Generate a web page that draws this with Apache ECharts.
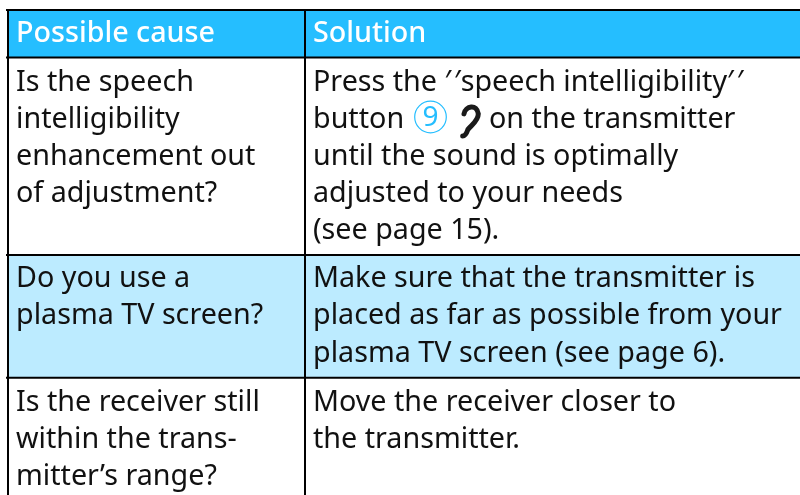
<!DOCTYPE html>
<html>
<head>
<meta charset="utf-8">
<style>html,body{margin:0;padding:0;background:#fff}#chart{width:800px;height:495px}</style>
<script src="https://cdn.jsdelivr.net/npm/echarts@6/dist/echarts.min.js"></script>
</head>
<body>
<div id="chart"></div>
<script>
const headers = ['Possible cause', 'Solution'];
const causes = [
    ['Is the speech', 'intelligibility', 'enhancement out', 'of adjustment?'],
    ['Do you use a', 'plasma TV screen?'],
    ['Is the receiver still', 'within the trans-', 'mitter\u2019s range?'],
];
const solutions = [
    ['Press the \u2032\u200A\u2032speech intelligibility\u2032\u200A\u2032', 'button', 'until the sound is optimally', 'adjusted to your needs', '(see page 15).'],
    ['Make sure that the transmitter is', 'placed as far as possible from your', 'plasma TV screen (see page 6).'],
    ['Move the receiver closer to', 'the transmitter.'],
];
const buttonTail = 'on the transmitter';
const buttonNumber = '9';

const font = '"Noto Sans", sans-serif';
const fontSize = 28.7;
const lineHeight = 37.2;
const inkColor = '#111111';
const headerColor = '#25BEFF';
const stripeColor = '#BCEBFF';
const colX = [8, 305, 800];
const rowY = [10, 57.5, 255, 377.7, 500];
const headerBaseline = 41;
const firstBaseline = [89.3, 286, 409.5];
const textX = [16, 313];

const chart = echarts.init(document.getElementById('chart'), null, {renderer: 'canvas'});

function cellItem(params, api) {
    const [x0, y0] = api.coord([api.value(0), api.value(1)]);
    const [x1, y1] = api.coord([api.value(2), api.value(3)]);
    return {type: 'rect', shape: {x: x0, y: y0, width: x1 - x0, height: y1 - y0},
        style: {fill: params.dataIndex === 0 ? headerColor : params.dataIndex === 2 ? stripeColor : '#fff'}};
}

function ruleItem(params, api) {
    const [x0, y0] = api.coord([api.value(0), api.value(1)]);
    const [x1, y1] = api.coord([api.value(2), api.value(3)]);
    return {type: 'line', shape: {x1: x0, y1: y0, x2: x1, y2: y1},
        style: {stroke: '#000', lineWidth: 2}};
}

const fills = [];
for (let r = 0; r < 4; r++) {
    fills.push([colX[0], rowY[r], colX[2], rowY[r + 1]]);
}
const rules = rowY.slice(0, 4).map(y => [colX[0] - 2, y, colX[2], y]);
rules.push([colX[0], rowY[0], colX[0], rowY[4]], [colX[1], rowY[0], colX[1], rowY[4]]);

const labels = [];
headers.forEach((text, c) => labels.push({value: [textX[c], headerBaseline], text, fill: '#fff', weight: 500}));
[causes, solutions].forEach((col, c) => col.forEach((lines, r) => lines.forEach((text, i) => {
    labels.push({value: [textX[c], firstBaseline[r] + i * lineHeight], text, fill: inkColor, weight: 400});
})));
labels.push({value: [489, firstBaseline[0] + lineHeight], text: buttonTail, fill: inkColor, weight: 400});

function labelItem(params, api) {
    const [x, y] = api.coord([api.value(0), api.value(1)]);
    const item = labels[params.dataIndex];
    return {type: 'text', style: {x, y: y - fontSize * 0.24, text: item.text, fill: item.fill,
        font: `${item.weight} ${fontSize}px ${font}`, textAlign: 'left', textVerticalAlign: 'middle'}};
}

function buttonItem(params, api) {
    const [x, y] = api.coord([430.5, 117]);
    const [ex, ey] = api.coord([462, 107]);
    return {type: 'group', children: [
        {type: 'circle', shape: {cx: x, cy: y, r: 15.8}, style: {fill: 'none', stroke: headerColor, lineWidth: 1.2}},
        {type: 'text', style: {x, y: y + 1, text: buttonNumber, fill: headerColor, font: `28px ${font}`,
            textAlign: 'center', textVerticalAlign: 'middle'}},
        {type: 'path', shape: {pathData: 'M4 9 C5 3 14 1 15 9 C15 15 9 18 7 21 C6 24 5 26 3 26',
            x: ex, y: ey, width: 17, height: 29, layout: 'center'},
            style: {fill: 'none', stroke: '#1a1a1a', lineWidth: 5, lineCap: 'round'}},
    ]};
}

chart.setOption({
    animation: false,
    grid: {left: 0, right: 0, top: 0, bottom: 0},
    xAxis: {type: 'value', min: 0, max: 800, show: false},
    yAxis: {type: 'value', min: 0, max: 495, inverse: true, show: false},
    series: [
        {type: 'custom', coordinateSystem: 'cartesian2d', renderItem: cellItem, data: fills, silent: true, clip: true, z: 1},
        {type: 'custom', coordinateSystem: 'cartesian2d', renderItem: ruleItem, data: rules, silent: true, clip: true, z: 2},
        {type: 'custom', coordinateSystem: 'cartesian2d', renderItem: labelItem, data: labels, silent: true, z: 3},
        {type: 'custom', coordinateSystem: 'cartesian2d', renderItem: buttonItem, data: [[430, 117]], silent: true, z: 3},
    ],
});
</script>
</body>
</html>
